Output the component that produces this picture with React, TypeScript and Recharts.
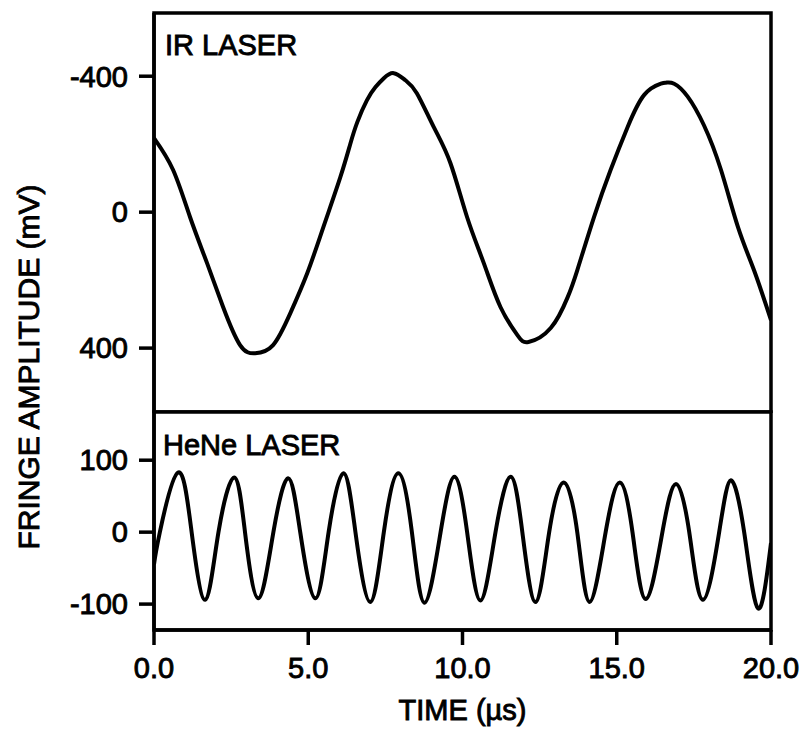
import React from 'react';
import { LineChart, Line, XAxis, YAxis, ReferenceArea } from 'recharts';

// ---- Data ----
const irTime = [0, 0.62, 1.17, 1.72, 2.24, 2.79, 3.28, 3.86, 4.42, 4.97, 5.49, 6.04, 6.36, 6.59, 6.9, 7.18, 7.45, 7.77, 8.15, 8.52, 9.07, 9.61, 10.15, 10.69, 11.23, 11.78, 12.14, 12.86, 13.41, 13.72, 14.26, 14.8, 15.35, 15.89, 16.43, 16.6, 16.86, 17.3, 17.83, 18.38, 18.93, 19.45, 20];
const irAmp = [-218, -124, 15, 150, 279, 391, 415, 391, 297, 179, 44, -103, -200, -265, -329, -368, -394, -409, -388, -350, -250, -144, 15, 150, 279, 362, 382, 341, 250, 171, 15, -124, -250, -345, -378, -381, -378, -340, -255, -124, 44, 171, 318];

const heneTime = [0, 0.19, 0.78, 1.22, 1.66, 2.09, 2.6, 2.95, 3.38, 3.87, 4.35, 4.74, 5.23, 5.66, 6.14, 6.53, 7.01, 7.45, 7.92, 8.36, 8.77, 9.29, 9.74, 10.15, 10.58, 11.07, 11.56, 11.94, 12.37, 12.81, 13.28, 13.72, 14.12, 14.64, 15.1, 15.51, 15.94, 16.48, 16.92, 17.35, 17.79, 18.32, 18.7, 19.13, 19.58, 20];
const heneAmp = [-45, 0, 83, 0, -94, 0, 76, 0, -92, 0, 75, 0, -92, 0, 82, 0, -97, 0, 82, 0, -98, 0, 77, 0, -95, 0, 77, 0, -97, 0, 69, 0, -97, 0, 69, 0, -93, 0, 67, 0, -94, 0, 72, 0, -106, -15];

const xTicks = [0, 5, 10, 15, 20];
const irTicks = [-400, 0, 400];
const heneTicks = [100, 0, -100];
const xDomain = [0, 20];
const irDomain = [-586, 588];
const heneDomain = [-136, 167];

const irData = irTime.map((t, i) => ({ t, v: irAmp[i] }));
const heneData = heneTime.map((t, i) => ({ t, v: heneAmp[i] }));

const FONT = '"Liberation Sans", Arial, Helvetica, sans-serif';
const tickStyle = { fill: '#000', fontSize: 29, fontFamily: FONT, stroke: '#000', strokeWidth: 0.9 };
const lineStyle = { stroke: '#000', strokeWidth: 3.5 };

export default function App() {
  return (
    <div style={{ position: 'absolute', left: 0, top: 0, width: 809, height: 730, background: '#fff', overflow: 'hidden' }}>
      {/* Top panel: IR laser */}
      <div style={{ position: 'absolute', left: 0, top: 0 }}>
        <LineChart width={809} height={413} data={irData} margin={{ top: 13, right: 38, bottom: 1, left: 0 }}>
          <XAxis dataKey="t" type="number" domain={xDomain} hide allowDataOverflow />
          <YAxis
            type="number"
            domain={irDomain}
            reversed
            ticks={irTicks}
            interval={0}
            width={154}
            allowDataOverflow
            tickSize={15}
            tickMargin={11}
            tick={tickStyle}
            tickLine={lineStyle}
            axisLine={lineStyle}
          />
          <ReferenceArea x1={xDomain[0]} x2={xDomain[1]} y1={irDomain[0]} y2={irDomain[1]} fill="none" fillOpacity={0} stroke="#000" strokeWidth={3.5} />
          <Line dataKey="v" type="natural" stroke="#000" strokeWidth={4} dot={false} isAnimationActive={false} />
          <text x={165} y={55} fontSize={29} fontFamily={FONT} fill="#000" stroke="#000" strokeWidth={0.9}>IR LASER</text>
        </LineChart>
      </div>

      {/* Bottom panel: HeNe laser */}
      <div style={{ position: 'absolute', left: 0, top: 0 }}>
        <LineChart width={809} height={730} data={heneData} margin={{ top: 412, right: 38, bottom: 0, left: 0 }}>
          <XAxis
            dataKey="t"
            type="number"
            domain={xDomain}
            ticks={xTicks}
            interval={0}
            allowDataOverflow
            height={100}
            tickSize={15}
            tickMargin={12}
            tick={tickStyle}
            tickLine={lineStyle}
            axisLine={lineStyle}
            tickFormatter={(v: number) => v.toFixed(1)}
            label={{ value: 'TIME (\u00B5s)', position: 'insideBottom', offset: 10, fill: '#000', stroke: '#000', strokeWidth: 0.9, fontSize: 29, fontFamily: FONT }}
          />
          <YAxis
            type="number"
            domain={heneDomain}
            ticks={heneTicks}
            interval={0}
            width={154}
            allowDataOverflow
            tickSize={15}
            tickMargin={11}
            tick={tickStyle}
            tickLine={lineStyle}
            axisLine={lineStyle}
          />
          <ReferenceArea x1={xDomain[0]} x2={xDomain[1]} y1={heneDomain[0]} y2={heneDomain[1]} fill="none" fillOpacity={0} stroke="#000" strokeWidth={3.5} />
          <Line dataKey="v" type="natural" stroke="#000" strokeWidth={4} dot={false} isAnimationActive={false} />
          <text x={163} y={455} fontSize={29} fontFamily={FONT} fill="#000" stroke="#000" strokeWidth={0.9}>HeNe LASER</text>
        </LineChart>
      </div>

      {/* Shared y-axis title */}
      <svg width={70} height={730} style={{ position: 'absolute', left: 0, top: 0 }}>
        <text
          x={28}
          y={367}
          transform="rotate(-90, 28, 367)"
          textAnchor="middle"
          dominantBaseline="central"
          fontSize={30}
          fontFamily={FONT}
          fill="#000"
          stroke="#000"
          strokeWidth={0.9}
        >
          FRINGE AMPLITUDE (mV)
        </text>
      </svg>
    </div>
  );
}
